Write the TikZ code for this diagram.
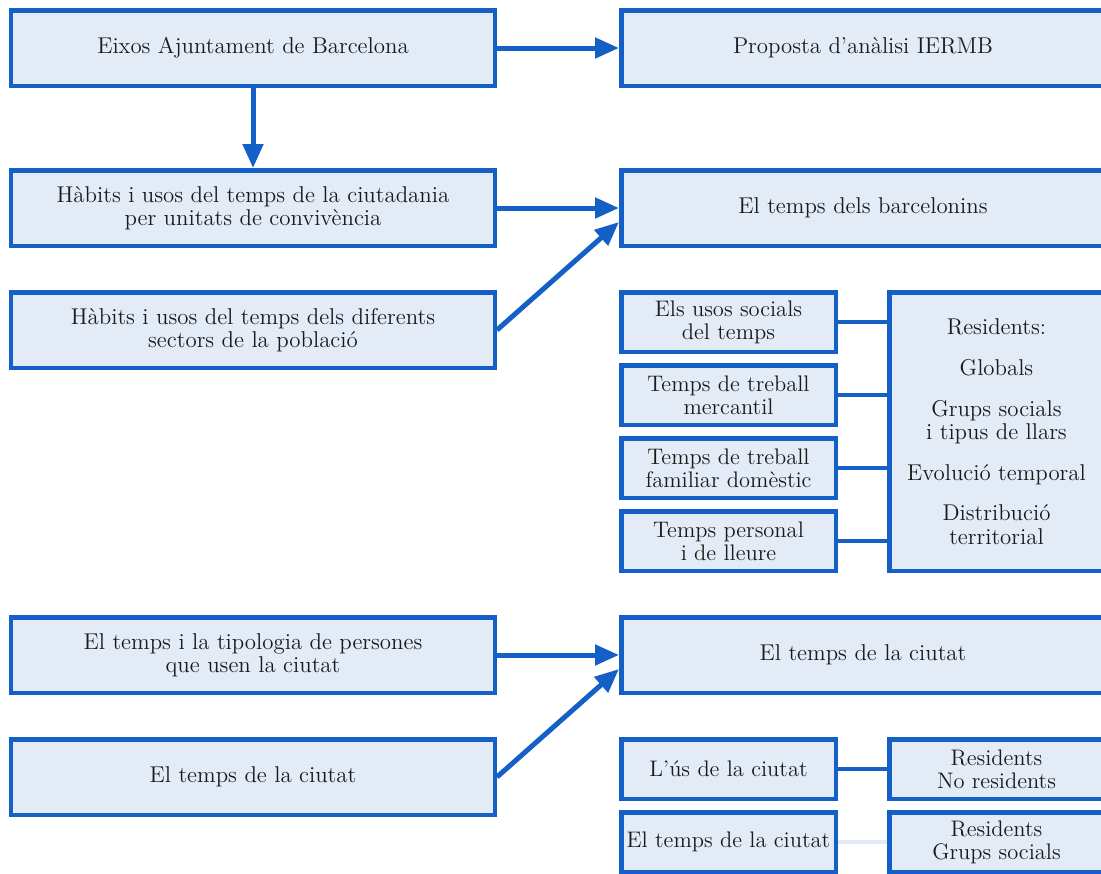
\documentclass[tikz,border=0pt]{standalone}
\usetikzlibrary{positioning,arrows.meta}

\definecolor{boxblue}{HTML}{1560C6}
\definecolor{boxfill}{HTML}{E3EBF6}
\definecolor{textgray}{HTML}{1A1A1A}
\definecolor{fadeline}{HTML}{E1EAF6}

\begin{document}
\begin{tikzpicture}[node distance=0.84cm,
    >={Triangle[length=0.48cm,width=0.4cm]},
    bigbox/.style={rectangle, draw=boxblue, fill=boxfill, line width=0.09cm,
        minimum width=9.67cm, minimum height=1.51cm, align=center,
        text=textgray, font=\fontsize{13}{13.2}\selectfont},
    smallbox/.style={bigbox, minimum width=4.29cm, minimum height=1.19cm, inner xsep=0.5pt,
        font=\fontsize{12.8}{13.2}\selectfont},
    arrowline/.style={draw=boxblue, line width=0.1cm},
    linkline/.style={draw=boxblue, line width=0.08cm}]

    \useasboundingbox (0,0) rectangle (22.02,-17.46);

    % Left column
    \node [bigbox] (eixos) at (5.06,-0.96) {Eixos Ajuntament de Barcelona};
    \node [bigbox, below=1.6cm of eixos] (habllars) {Hàbits i usos del temps de la ciutadania\\per unitats de convivència};
    \node [bigbox, below=of habllars] (habsectors) {Hàbits i usos del temps dels diferents\\sectors de la població};
    \node [bigbox, below=4.9cm of habsectors] (tipologia) {El temps i la tipologia de persones\\que usen la ciutat};
    \node [bigbox, below=of tipologia] (ciutatesq) {El temps de la ciutat};

    % Right column
    \node [bigbox, right=2.44cm of eixos] (proposta) {Proposta d’anàlisi IERMB};
    \node [bigbox, right=2.44cm of habllars] (barcelonins) {El temps dels barcelonins};
    \node [bigbox, right=2.44cm of tipologia] (ciutatdre) {El temps de la ciutat};

    % Usos socials del temps
    \node [smallbox, below right=0.84cm and 0cm of barcelonins.south west] (usos) {Els usos socials\\del temps};
    \node [smallbox, below=0.18cm of usos] (mercantil) {Temps de treball\\mercantil};
    \node [smallbox, below=0.18cm of mercantil] (domestic) {Temps de treball\\familiar domèstic};
    \node [smallbox, below=0.18cm of domestic] (lleure) {Temps personal\\i de lleure};
    \node [bigbox, minimum width=4.29cm, minimum height=5.57cm, below right=0cm and 0.98cm of usos.north east] (residents)
        {Residents:\\[10pt]Globals\\[10pt]Grups socials\\i tipus de llars\\[10pt]Evolució temporal\\[10pt]Distribució\\territorial};

    % Temps de la ciutat
    \node [smallbox, below right=0.84cm and 0cm of ciutatdre.south west] (usciutat) {L’ús de la ciutat};
    \node [smallbox, below=0.18cm of usciutat] (tempsciutat) {El temps de la ciutat};
    \node [smallbox, right=0.98cm of usciutat] (noresidents) {Residents\\No residents};
    \node [smallbox, right=0.98cm of tempsciutat] (grupssocials) {Residents\\Grups socials};

    % Arrows
    \draw[arrowline, ->] (eixos) -- (proposta);
    \draw[arrowline, ->] (eixos) -- (habllars);
    \draw[arrowline, ->] (habllars) -- (barcelonins);
    \draw[arrowline, ->] (habsectors.east) -- ([yshift=-0.28cm]barcelonins.west);
    \draw[arrowline, ->] (tipologia) -- (ciutatdre);
    \draw[arrowline, ->] (ciutatesq.east) -- ([yshift=-0.28cm]ciutatdre.west);

    % Links
    \foreach \s in {usos, mercantil, domestic, lleure}
        \draw[linkline] (\s.east) -- (\s.east -| residents.west);
    \draw[linkline] (usciutat) -- (noresidents);
    \draw[linkline, draw=fadeline] (tempsciutat) -- (grupssocials);
\end{tikzpicture}
\end{document}
